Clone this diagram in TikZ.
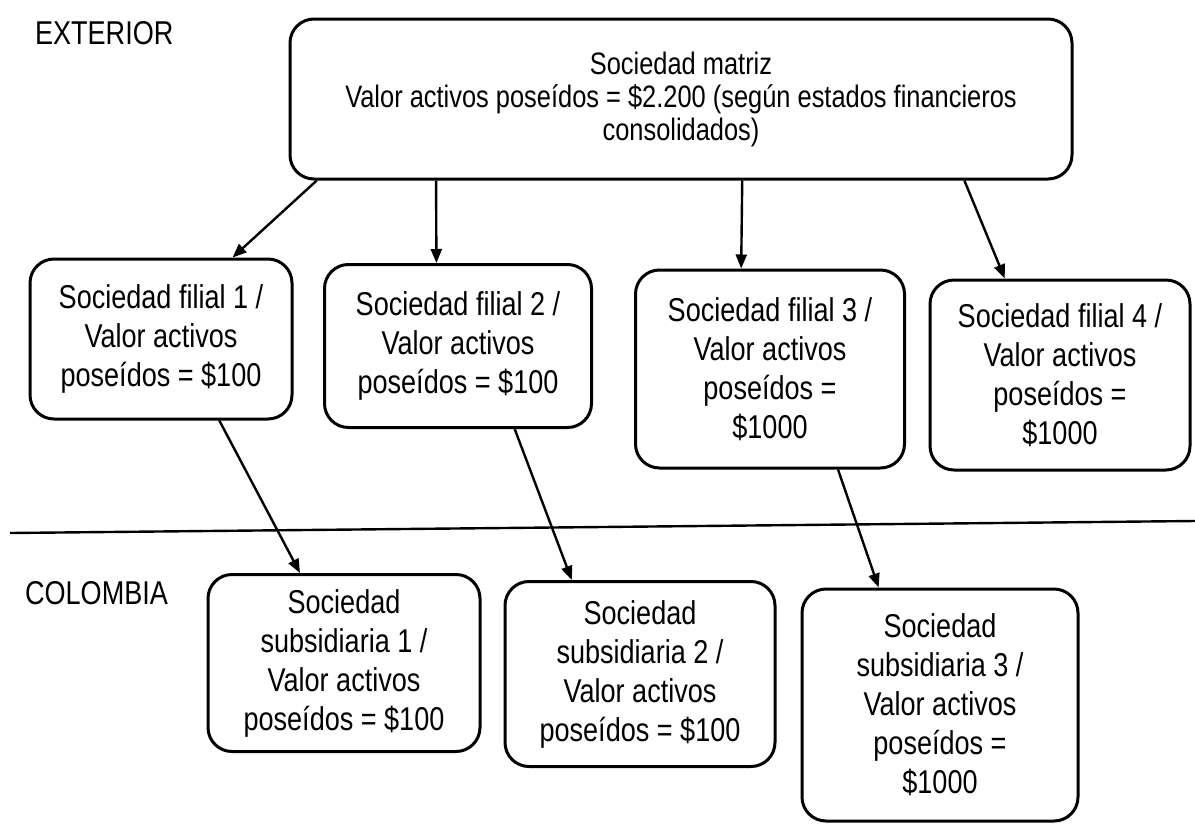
\documentclass[tikz,border=0pt]{standalone}
\usepackage{fontspec}
\setmainfont{Liberation Sans}[FakeStretch=0.82]
\usetikzlibrary{arrows.meta,calc}

\begin{document}
\begin{tikzpicture}[x=0.5pt,y=-0.5pt,
	caja/.style={draw,line width=1.5pt,rounded corners=12pt,inner sep=0pt,align=center,
		font=\fontsize{16.5}{19.5}\selectfont},
	flecha/.style={line width=1.2pt,-{Triangle[length=7pt,width=5.5pt]}}]
	\useasboundingbox (0,0) rectangle (1195,825);
	
	% zonas
	\node[anchor=west,font=\fontsize{16.5}{19.5}\selectfont] (exterior) at (28,33) {EXTERIOR};
	\node[anchor=west,font=\fontsize{16.5}{19.5}\selectfont] (colombia) at (18,593) {COLOMBIA};
	\draw[line width=1.2pt] (10,533) -- (1195,521);
	
	% sociedad matriz
	\node[caja,minimum width=391pt,minimum height=80pt,font=\fontsize{15.5}{16.5}\selectfont] (matriz) at (681,99)
	{Sociedad matriz\\Valor activos poseídos = \$2.200 (según estados financieros\\consolidados)};
	
	% filiales (exterior)
	\node[caja,minimum width=131pt,minimum height=80pt] (f1) at (161,339)
	{Sociedad filial 1 /\\Valor activos\\poseídos = \$100};
	\node[caja,minimum width=133.5pt,minimum height=81.5pt] (f2) at (458,346)
	{Sociedad filial 2 /\\Valor activos\\poseídos = \$100};
	\node[caja,minimum width=134.5pt,minimum height=99pt] (f3) at (770,369)
	{Sociedad filial 3 /\\Valor activos\\poseídos =\\\$1000};
	\node[caja,minimum width=130pt,minimum height=95pt] (f4) at (1060,375)
	{Sociedad filial 4 /\\Valor activos\\poseídos =\\\$1000};
	
	% subsidiarias (Colombia)
	\node[caja,minimum width=136pt,minimum height=88.5pt] (s1) at (344,663)
	{Sociedad\\subsidiaria 1 /\\Valor activos\\poseídos = \$100};
	\node[caja,minimum width=135pt,minimum height=92.5pt] (s2) at (640,674)
	{Sociedad\\subsidiaria 2 /\\Valor activos\\poseídos = \$100};
	\node[caja,minimum width=138pt,minimum height=116pt] (s3) at (940,705)
	{Sociedad\\subsidiaria 3 /\\Valor activos\\poseídos =\\\$1000};
	
	% matriz -> filiales
	\draw[flecha] ($(matriz.south west)!0.036!(matriz.south east)$) -- ($(f1.north west)!0.77!(f1.north east)$);
	\draw[flecha] ($(matriz.south west)!0.188!(matriz.south east)$) -- ($(f2.north west)!0.42!(f2.north east)$);
	\draw[flecha] ($(matriz.south west)!0.578!(matriz.south east)$) -- ($(f3.north west)!0.394!(f3.north east)$);
	\draw[flecha] ($(matriz.south west)!0.861!(matriz.south east)$) -- ($(f4.north west)!0.29!(f4.north east)$);
	
	% filiales -> subsidiarias
	\draw[flecha] ($(f1.south west)!0.72!(f1.south east)$) -- ($(s1.north west)!0.34!(s1.north east)$);
	\draw[flecha] ($(f2.south west)!0.71!(f2.south east)$) -- ($(s2.north west)!0.25!(s2.north east)$);
	\draw[flecha] ($(f3.south west)!0.75!(f3.south east)$) -- ($(s3.north west)!0.28!(s3.north east)$);
	
\end{tikzpicture}
\end{document}
